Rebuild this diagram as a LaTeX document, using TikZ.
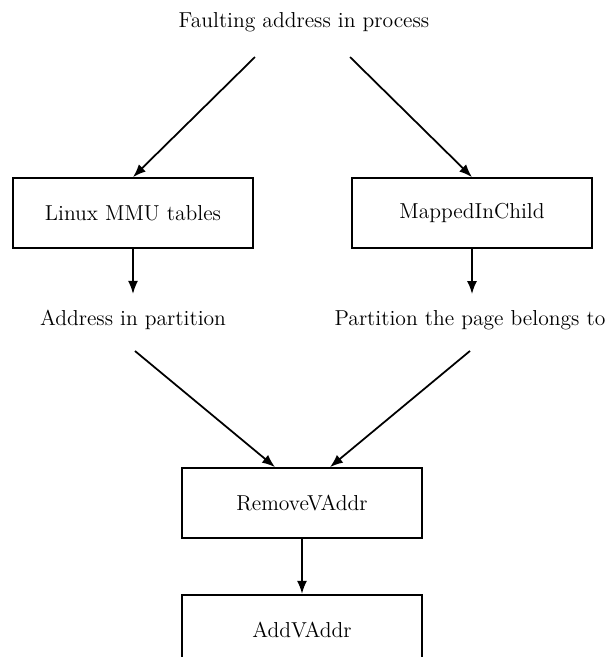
\documentclass[tikz,border=0pt]{standalone}
\usepackage{tikz}
\usetikzlibrary{arrows.meta,positioning,calc}

\begin{document}
\begin{tikzpicture}[
  x=0.02cm, y=-0.02cm,
  node distance=1.1cm,
  box/.style={
    rectangle, draw=black, line width=1pt,
    minimum width=4.8cm, minimum height=1.4cm,
    font=\fontsize{12.3}{15}\selectfont
  },
  lbl/.style={font=\fontsize{12.3}{15}\selectfont},
  ptr/.style={-{Latex[length=2.6mm,width=2mm]}, line width=1pt}
]
  \useasboundingbox (0,0) rectangle (608,657);

  \node[lbl] (fault) at (304,22) {Faulting address in process};
  \node[box] (mmu) at (133,213) {Linux MMU tables};
  \node[box] (mic) at (472,213) {MappedInChild};
  \node[lbl] (addr) at (133,320) {Address in partition};
  \node[lbl] (part) at (470,320) {Partition the page belongs to};
  \node[box] (rmv) at (302,503) {RemoveVAddr};
  \node[box, below=of rmv] (addv) {AddVAddr};

  % from the faulting address to both lookups
  \coordinate (fl) at (255,57);
  \coordinate (fr) at (350,57);
  \draw[ptr] (fl) -- (mmu.north);
  \draw[ptr] (fr) -- (mic.north);

  \draw[ptr, shorten >=0.2cm] (mmu.south) -- (addr.north -| mmu.south);
  \draw[ptr, shorten >=0.2cm] (mic.south) -- (part.north -| mic.south);

  \draw[ptr] ([xshift=0.04cm, yshift=-0.3cm]addr.south) -- ([xshift=-0.54cm]rmv.north);
  \draw[ptr] ([yshift=-0.3cm]part.south) -- ([xshift=0.56cm]rmv.north);

  \draw[ptr] (rmv) -- (addv);
\end{tikzpicture}
\end{document}
